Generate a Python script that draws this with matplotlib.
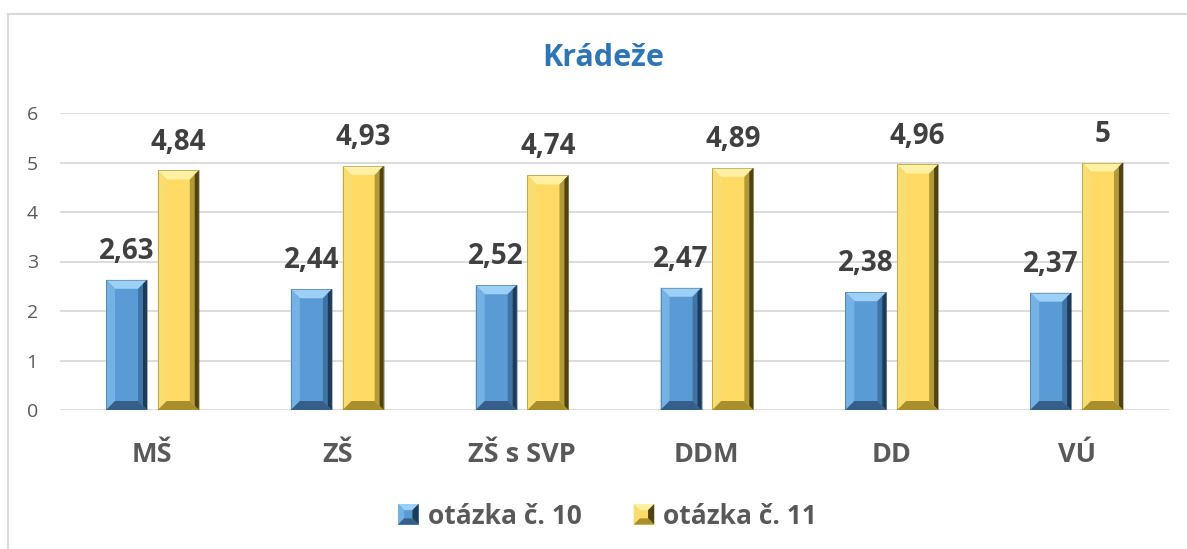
import matplotlib
matplotlib.use("Agg")
import matplotlib.pyplot as plt
from matplotlib.lines import Line2D
from matplotlib.patches import Polygon, Rectangle
from matplotlib.legend_handler import HandlerBase
import numpy as np

# --------------------------------------------------------------------
# DATA
# --------------------------------------------------------------------
categories = ["MŠ", "ZŠ", "ZŠ s SVP", "DDM", "DD", "VÚ"]
q10 = [2.63, 2.44, 2.52, 2.47, 2.38, 2.37]
q11 = [4.84, 4.93, 4.74, 4.89, 4.96, 5.00]
q10_labels = ["2,63", "2,44", "2,52", "2,47", "2,38", "2,37"]
q11_labels = ["4,84", "4,93", "4,74", "4,89", "4,96", "5"]
series_names = ["otázka č. 10", "otázka č. 11"]
yticks = [0, 1, 2, 3, 4, 5, 6]

# --------------------------------------------------------------------
# Styles
# --------------------------------------------------------------------
plt.rcParams['font.family'] = ['Open Sans', 'DejaVu Sans']
gray_txt = '#595959'
lbl_txt = '#404040'
grid_c = '#D9D9D9'
blue = {'face': '#5B9BD5', 'top': '#9DD0F7', 'left': '#74B2E6', 'right': '#1E3B57',
        'rmid': '#3F74A6', 'bottom': '#355F88'}
yellow = {'face': '#FFDB66', 'top': '#FFF0A3', 'left': '#F7DD72', 'right': '#4F4213',
          'rmid': '#B39A38', 'bottom': '#A88F2C'}

W, H = 1187, 549
fig = plt.figure(figsize=(W / 100, H / 100), dpi=100)

# plot area in pixels
px0, px1 = 60, 1169
py0, py1 = 410, 113  # y=0 and y=6
ax = fig.add_axes([px0 / W, 1 - py0 / H, (px1 - px0) / W, (py0 - py1) / H])
ax.set_xlim(0, len(categories))
ax.set_ylim(0, 6)

for t in yticks:
    ax.axhline(t, color=grid_c, lw=1.3, zorder=0)
for s in ax.spines.values():
    s.set_visible(False)
ax.set_yticks(yticks)
ax.set_yticklabels([str(t) for t in yticks])
ax.tick_params(axis='y', length=0, pad=16, labelsize=14, labelcolor=gray_txt)
ax.set_xticks(np.arange(len(categories)) + 0.5)
ax.set_xticklabels(categories, fontweight='bold', fontsize=19.5, color=gray_txt)
ax.tick_params(axis='x', length=0, pad=23)

# bevel sizes in data units
bw = 0.222
off = 0.14
bx = 9 / ((px1 - px0) / len(categories))
by = 9 / ((py0 - py1) / 6.0)


def bevel_bar(ax, xc, h, c):
    x0, x1 = xc - bw / 2, xc + bw / 2
    ax.add_patch(Rectangle((x0, 0), bw, h, facecolor=c['face'], edgecolor='none', zorder=2))
    ax.add_patch(Polygon([(x0, h), (x1, h), (x1 - bx, h - by), (x0 + bx, h - by)],
                         closed=True, facecolor=c['top'], edgecolor='none', zorder=3))
    ax.add_patch(Polygon([(x0, 0), (x0, h), (x0 + bx, h - by), (x0 + bx, by)],
                         closed=True, facecolor=c['left'], edgecolor='none', zorder=3))
    ax.add_patch(Polygon([(x1, 0), (x1, h), (x1 - bx, h - by), (x1 - bx, by)],
                         closed=True, facecolor=c['rmid'], edgecolor='none', zorder=3))
    ax.add_patch(Polygon([(x1, 0), (x1, h), (x1 - bx * 0.45, h - by * 0.45), (x1 - bx * 0.45, by * 0.45)],
                         closed=True, facecolor=c['right'], edgecolor='none', zorder=3))
    ax.add_patch(Polygon([(x0, 0), (x1, 0), (x1 - bx, by), (x0 + bx, by)],
                         closed=True, facecolor=c['bottom'], edgecolor='none', zorder=3))
    ax.add_patch(Rectangle((x0, 0), bw, h, facecolor='none', edgecolor=c['right'], lw=0.6, alpha=0.4, zorder=4))


for i in range(len(categories)):
    xc = i + 0.5
    bevel_bar(ax, xc - off, q10[i], blue)
    bevel_bar(ax, xc + off, q11[i], yellow)
    ax.annotate(q10_labels[i], (xc - off, q10[i]), xytext=(0, 10), textcoords='offset points',
                ha='center', va='bottom', fontsize=20, fontweight='bold', color=lbl_txt)
    ax.annotate(q11_labels[i], (xc + off, q11[i]), xytext=(0, 10), textcoords='offset points',
                ha='center', va='bottom', fontsize=20, fontweight='bold', color=lbl_txt)

# title
fig.text(603 / W, 1 - 58 / H, "Krádeže", ha='center', va='center', fontsize=22,
         fontweight='bold', color='#2E75B6')


# legend with bevelled squares
class BevelHandler(HandlerBase):
    def __init__(self, c):
        super().__init__()
        self.c = c

    def create_artists(self, legend, orig_handle, xdescent, ydescent, width, height, fontsize, trans):
        s = fontsize * 0.78
        x0 = xdescent + width - s
        y0 = -ydescent + (height - s) / 2
        d = s * 0.3
        c = self.c
        arts = [Rectangle((x0, y0), s, s, facecolor=c['face'], transform=trans)]
        arts.append(Polygon([(x0, y0 + s), (x0 + s, y0 + s), (x0 + s - d, y0 + s - d), (x0 + d, y0 + s - d)],
                            facecolor=c['top'], transform=trans))
        arts.append(Polygon([(x0, y0), (x0, y0 + s), (x0 + d, y0 + s - d), (x0 + d, y0 + d)],
                            facecolor=c['left'], transform=trans))
        arts.append(Polygon([(x0 + s, y0), (x0 + s, y0 + s), (x0 + s - d, y0 + s - d), (x0 + s - d, y0 + d)],
                            facecolor=c['right'], transform=trans))
        arts.append(Polygon([(x0, y0), (x0 + s, y0), (x0 + s - d, y0 + d), (x0 + d, y0 + d)],
                            facecolor=c['bottom'], transform=trans))
        for a in arts:
            a.set_edgecolor('none')
        return arts


h1 = Line2D([], [])
h2 = Line2D([], [])
leg = fig.legend([h1, h2], series_names, loc='center', bbox_to_anchor=(608 / W, 1 - 516 / H),
                 ncol=2, frameon=False, handler_map={h1: BevelHandler(blue), h2: BevelHandler(yellow)},
                 handlelength=0.75, handletextpad=0.35, columnspacing=2.0,
                 prop={'weight': 'bold', 'size': 19})
for t in leg.get_texts():
    t.set_color(gray_txt)

# chart border (top and left visible)
fig.add_artist(Line2D([8 / W, 1], [1 - 14 / H, 1 - 14 / H], transform=fig.transFigure, color=grid_c, lw=1.5))
fig.add_artist(Line2D([8 / W, 8 / W], [1 - 14 / H, 0], transform=fig.transFigure, color=grid_c, lw=1.5))

plt.savefig("out.png", dpi=100)
plt.close()
